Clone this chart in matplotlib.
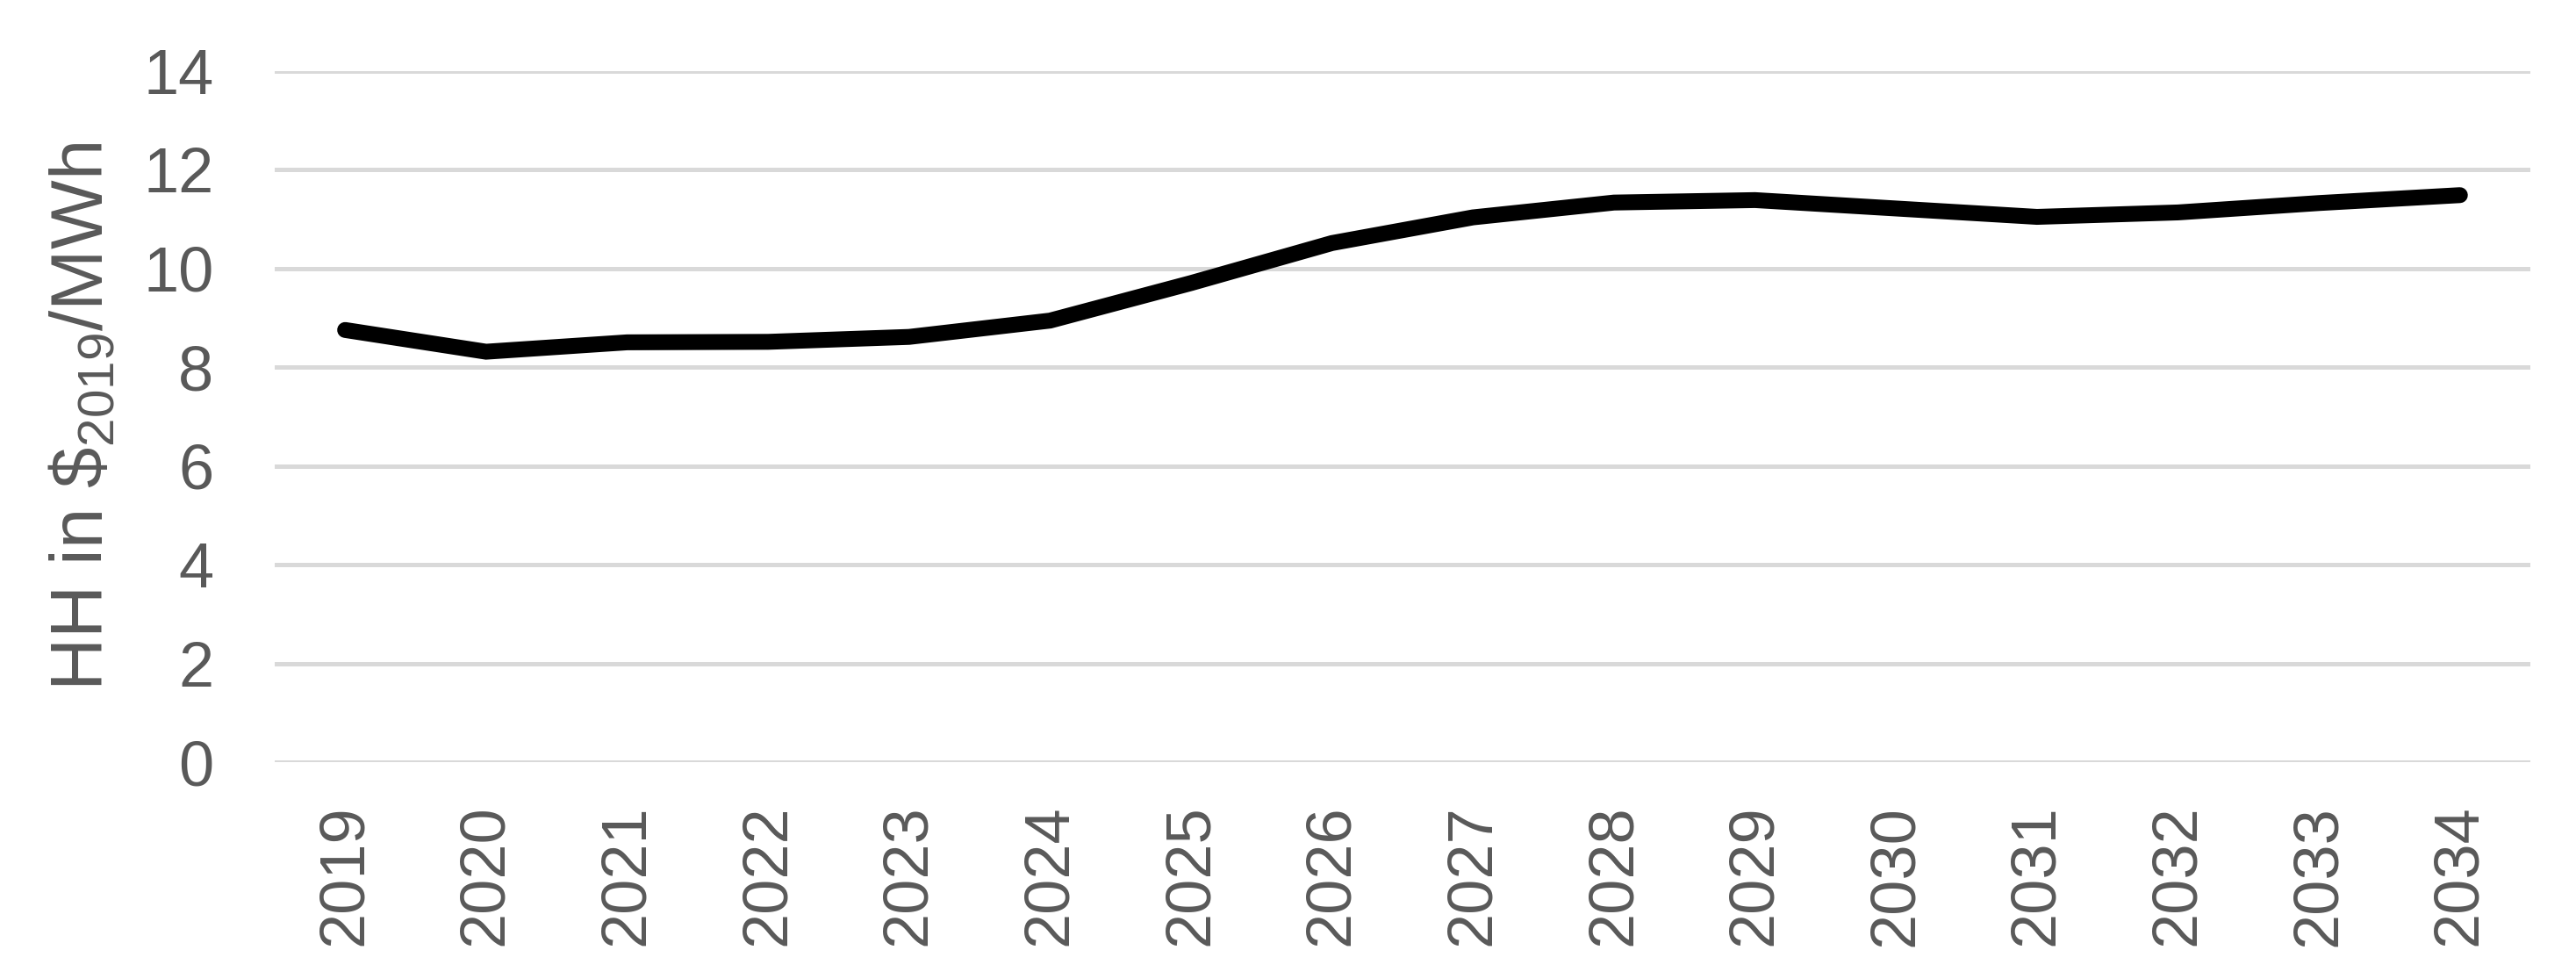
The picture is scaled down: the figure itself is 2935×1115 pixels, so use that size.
import numpy as np
import matplotlib.pyplot as plt

# HH price path, $2019/MWh
years = ['2019', '2020', '2021', '2022', '2023', '2024', '2025', '2026',
         '2027', '2028', '2029', '2030', '2031', '2032', '2033', '2034']
hh_price = [8.75, 8.31, 8.50, 8.51, 8.61, 8.94, 9.70, 10.51,
            11.03, 11.33, 11.38, 11.21, 11.04, 11.13, 11.32, 11.48]
y_ticks = [0, 2, 4, 6, 8, 10, 12, 14]

plt.rcParams['font.family'] = ['Liberation Sans', 'DejaVu Sans']
plt.rcParams['mathtext.default'] = 'regular'

text_color = '#595959'
grid_color = '#D9D9D9'

fig = plt.figure(figsize=(29.35, 11.15), dpi=100)
ax = fig.add_axes([0.1066, 0.2215, 0.8757, 0.7063])

x = np.arange(len(years))
ax.plot(x, hh_price, color='black', linewidth=13, solid_capstyle='round',
        solid_joinstyle='miter', zorder=3)

ax.set_xlim(-0.5, len(years) - 0.5)
ax.set_ylim(0, 14)
ax.set_yticks(y_ticks)
ax.set_xticks(x)
ax.set_xticklabels(years, rotation=90)

# Horizontal gridlines only
ax.yaxis.grid(True, color=grid_color, linewidth=3.6, zorder=0)
ax.set_axisbelow(True)
for s in ax.spines.values():
    s.set_visible(False)

ax.tick_params(axis='y', length=0, pad=50, labelsize=52, labelcolor=text_color)
ax.tick_params(axis='x', length=0, pad=35, labelsize=52, labelcolor=text_color)

ax.set_ylabel(r'HH in \$$_{2019}$/MWh', fontsize=60, color=text_color)
ax.yaxis.set_label_coords(-0.0695, 0.5)

fig.savefig('out.png', dpi=100)
